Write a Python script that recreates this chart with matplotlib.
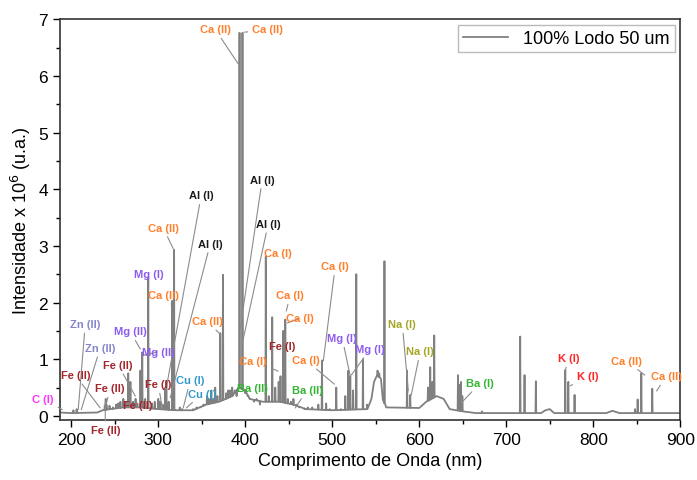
import numpy as np
import matplotlib
matplotlib.use('Agg')
import matplotlib.pyplot as plt

plt.rcParams['font.family'] = ['Liberation Sans', 'DejaVu Sans']

# continuum / baseline of the spectrum (nm, intensity x1e6)
base_nm = [187, 200, 230, 236, 245, 260, 280, 300, 320, 340, 355, 370, 385, 390, 392,
           400, 405, 420, 440, 455, 470, 500, 540, 545, 548, 552, 556, 558, 562, 600,
           608, 620, 628, 635, 650, 665, 700, 740, 745, 750, 755, 815, 822, 830, 900]
base_int = [0.06, 0.05, 0.06, 0.10, 0.12, 0.15, 0.15, 0.12, 0.10, 0.10, 0.20, 0.25, 0.35, 0.45, 0.50,
            0.45, 0.30, 0.25, 0.25, 0.20, 0.12, 0.10, 0.12, 0.30, 0.60, 0.72, 0.65, 0.30, 0.15, 0.14,
            0.25, 0.35, 0.30, 0.12, 0.08, 0.05, 0.05, 0.05, 0.10, 0.12, 0.05, 0.05, 0.09, 0.05, 0.05]

# emission lines (nm, intensity x1e6)
peak_nm = [202.5, 206.2, 238.5, 239.6, 240.5, 244.0, 247.9, 251.6, 254.0, 256.5, 259.9, 263.0,
           265.5, 268.0, 271.0, 273.9, 276.0, 279.5, 281.6, 285.0, 288.5, 293.0, 296.0, 300.0,
           302.0, 305.0, 308.2, 309.3, 312.0, 316.0, 318.2, 324.7, 327.4, 335.0, 340.0, 344.0,
           349.0, 352.0, 356.0, 358.1, 361.0, 363.5, 365.5, 368.0, 371.3, 374.4, 378.0, 380.5,
           382.5, 385.0, 388.0, 390.0, 393.4, 396.8, 400.0, 403.0, 406.0, 410.0, 413.0, 416.8,
           420.0, 423.6, 427.0, 431.0, 434.5, 438.4, 440.5, 443.6, 446.0, 449.0, 452.5, 455.4,
           459.0, 462.0, 468.0, 472.0, 477.0, 484.0, 488.2, 493.0, 497.0, 504.6, 510.0, 515.0,
           518.4, 520.7, 524.0, 527.6, 535.3, 540.0, 552.0, 554.0, 560.0, 586.0, 589.6, 610.0,
           612.6, 615.0, 617.2, 644.5, 646.0, 648.0, 649.5, 672.0, 716.0, 721.0, 734.0, 767.8,
           771.3, 778.5, 848.0, 851.0, 855.2, 867.8]
peak_int = [0.10, 0.12, 0.18, 0.30, 0.20, 0.18, 0.15, 0.20, 0.22, 0.25, 0.30, 0.25,
            0.75, 0.60, 0.25, 0.30, 0.22, 0.80, 1.12, 0.30, 2.44, 0.22, 0.25, 0.30,
            0.25, 0.20, 0.50, 0.60, 0.25, 2.03, 2.93, 0.15, 0.12, 0.10, 0.12, 0.15,
            0.15, 0.20, 0.35, 0.30, 0.45, 0.30, 0.50, 0.35, 1.46, 2.49, 0.40, 0.45,
            0.45, 0.50, 0.45, 0.35, 6.76, 6.76, 0.40, 0.35, 0.30, 0.25, 0.30, 0.20,
            0.25, 2.81, 0.35, 1.74, 0.50, 0.60, 0.70, 1.50, 1.70, 0.30, 0.25, 0.30,
            0.20, 0.15, 0.12, 0.15, 0.15, 0.20, 0.98, 0.22, 0.12, 0.50, 0.12, 0.35,
            0.80, 0.70, 0.45, 2.50, 1.00, 0.20, 0.80, 0.75, 2.73, 0.80, 0.37, 0.50,
            0.86, 0.60, 1.42, 0.72, 0.55, 0.60, 0.35, 0.08, 1.40, 0.72, 0.61, 0.81,
            0.60, 0.37, 0.12, 0.29, 0.75, 0.48]

# line identifications
label_text = ['Ca (II)', 'Ca (II)', 'Al (I)', 'Al (I)', 'Al (I)', 'Al (I)', 'Ca (II)', 'Mg (I)',
              'Ca (II)', 'Ca (II)', 'Zn (II)', 'Zn (II)', 'Mg (II)', 'Mg (II)', 'Fe (II)', 'Fe (II)',
              'Fe (II)', 'Fe (I)', 'Fe (II)', 'Fe (II)', 'C (I)', 'Cu (I)', 'Cu (I)', 'Ba (II)',
              'Ba (II)', 'Ca (I)', 'Fe (I)', 'Ca (I)', 'Ca (I)', 'Ca (I)', 'Ca (I)', 'Ca (I)',
              'Mg (I)', 'Mg (I)', 'Na (I)', 'Na (I)', 'Ba (I)', 'K (I)', 'K (I)', 'Ca (II)', 'Ca (II)']
label_nm = [365.5, 425.3, 349.4, 359.8, 419.5, 426.4, 305.7, 289.7,
            305.7, 356.3, 216.1, 233.3, 267.8, 300.0, 204.6, 254.0,
            244.8, 300.0, 275.9, 239.1, 167.8, 336.8, 350.6, 408.0,
            471.3, 409.2, 442.5, 451.7, 463.2, 437.9, 470.1, 503.4,
            511.5, 543.7, 580.5, 601.1, 670.1, 771.3, 793.1, 838.5, 883.9]
label_int = [6.82, 6.82, 3.89, 3.04, 4.17, 3.39, 3.32, 2.50,
             2.13, 1.67, 1.62, 1.20, 1.49, 1.13, 0.72, 0.90,
             0.49, 0.56, 0.19, -0.25, 0.30, 0.63, 0.39, 0.49,
             0.46, 0.97, 1.23, 2.13, 1.72, 2.88, 0.98, 2.64,
             1.37, 1.18, 1.62, 1.14, 0.58, 1.02, 0.70, 0.97, 0.70]
tip_nm = [392.0, 398.9, 309.2, 313.8, 394.3, 396.6, 317.2, np.nan,
          314.9, 371.3, 208.0, 211.5, 279.3, 282.8, 233.3, 273.6,
          240.2, 304.6, np.nan, 239.1, 189.7, 328.7, 332.2, np.nan,
          457.5, 437.9, np.nan, 447.1, 448.3, 424.1, 502.3, 489.7,
          520.7, 521.8, 587.4, 590.8, 648.3, 767.8, 773.6, 859.2, 872.8]
tip_int = [6.21, 6.77, 0.49, 0.32, 1.55, 1.28, 2.95, np.nan,
           1.97, 1.44, 0.11, 0.11, 1.18, 1.07, 0.14, 0.35,
           0.21, 0.14, np.nan, 0.23, 0.11, 0.14, 0.14, np.nan,
           0.14, 0.79, np.nan, 1.85, 1.64, 2.74, 0.56, 0.97,
           0.70, 0.72, 0.44, 0.37, 0.23, 0.79, 0.53, 0.72, 0.44]

elem_color = {'Ca': '#ff7f2a', 'Al': '#1a1a1a', 'Mg': '#8c5cf0', 'Zn': '#8585cc',
              'Fe': '#a3262b', 'C': '#ff33ff', 'Cu': '#3399cc', 'Ba': '#33b533',
              'Na': '#a6a626', 'K': '#ff2424'}

# build the spectrum trace: continuum plus narrow lines on top of it
w = 0.4
xs = list(base_nm)
ys = list(base_int)
for p, h in zip(peak_nm, peak_int):
    b = np.interp(p, base_nm, base_int)
    xs += [p - w, p, p + w]
    ys += [b, h, b]
order = np.argsort(xs, kind='stable')
xs = np.array(xs)[order]
ys = np.array(ys)[order]

fig = plt.figure(figsize=(6.97, 4.81), dpi=100)
ax = fig.add_axes([0.086, 0.125, 0.89, 0.833])
ax.plot(xs, ys, color='#808080', lw=1.3, label='100% Lodo 50 um')

for t, lx, ly, tx, ty in zip(label_text, label_nm, label_int, tip_nm, tip_int):
    c = elem_color[t.split()[0]]
    if np.isnan(tx):
        ax.text(lx, ly, t, ha='center', va='center', color=c, fontsize=8, fontweight='bold')
    else:
        ax.annotate(t, xy=(tx, ty), xytext=(lx, ly), ha='center', va='center', color=c,
                    fontsize=8, fontweight='bold', annotation_clip=False,
                    arrowprops=dict(arrowstyle='-', color='#8c8c8c', lw=0.8, shrinkA=1, shrinkB=0))

ax.set_xlim(187, 900)
ax.set_ylim(-0.07, 7)
ax.set_xticks(np.arange(200, 901, 100))
ax.set_xticks(np.arange(250, 900, 100), minor=True)
ax.set_yticks(np.arange(0, 8, 1))
ax.set_yticks(np.arange(0.5, 7, 1), minor=True)
ax.tick_params(which='both', direction='out', top=False, right=False, labelsize=12.5)
ax.tick_params(which='major', length=5, width=1)
ax.tick_params(which='minor', length=3, width=1)
for s in ax.spines.values():
    s.set_linewidth(1.2)
    s.set_color('#333333')

ax.set_xlabel('Comprimento de Onda (nm)', fontsize=13)
ax.set_ylabel('Intensidade x 10$^6$ (u.a.)', fontsize=13)

leg = ax.legend(loc='upper right', fontsize=13, frameon=True, fancybox=False,
                handlelength=2.5, borderaxespad=0.3, borderpad=0.3)
leg.get_frame().set_edgecolor('#aaaaaa')
leg.get_frame().set_linewidth(1.0)

fig.savefig('out.png', dpi=100)
